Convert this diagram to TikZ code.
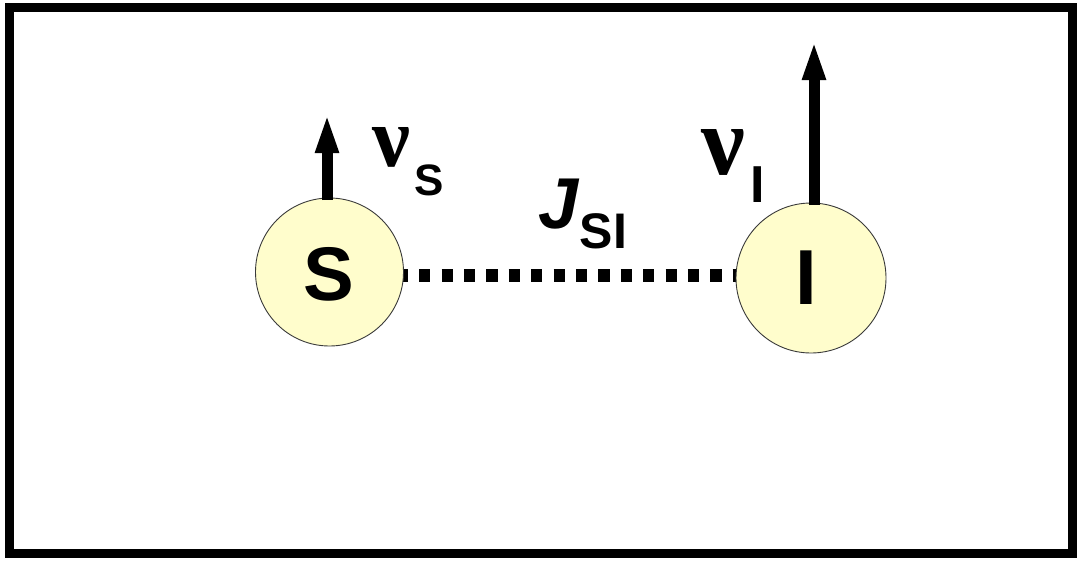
\documentclass[tikz,border=0pt]{standalone}
\usepackage{fontspec}
\setmainfont{Liberation Sans}
\newfontfamily\greekfont{Liberation Serif}
\usetikzlibrary{arrows.meta}
\definecolor{spinfill}{HTML}{FFFDCC}
\definecolor{rimgray}{HTML}{3A3A3A}
\tikzset{
  spin/.style={circle, draw=rimgray, line width=0.9pt, fill=spinfill, inner sep=0pt},
  moment/.style={line width=11pt, -{Triangle[length=40pt, width=21pt]}},
  coupling/.style={line width=13pt, dash pattern=on 11.2pt off 11.2pt},
  glyph/.style={inner sep=0pt, outer sep=0pt, anchor=center}
}
\begin{document}
\begin{tikzpicture}[x=1pt, y=-1pt]
  \useasboundingbox (0,0) rectangle (1081,560);
  % outer frame
  \draw[line width=9pt] (9.5,7.5) rectangle (1072,553.5);

  % spin centres
  \coordinate (cS) at (329.5,272);
  \coordinate (cI) at (811,278);
  \coordinate (mid) at (570,275);

  % scalar coupling, drawn beneath the spins
  \draw[coupling] (cS |- mid) -- (cI |- mid);

  % the two spins
  \node[spin, minimum size=148pt] (S) at (cS) {};
  \node[spin, minimum size=150pt] (I) at (cI) {};
  \node[glyph, font=\bfseries\fontsize{76}{76}\selectfont] (Slbl) at (328.5,274) {S};
  \node[glyph, font=\bfseries\fontsize{78}{78}\selectfont] (Ilbl) at (806.5,278) {I};

  % coupling label
  \node[glyph, font=\bfseries\itshape\fontsize{72}{72}\selectfont] (J) at (558.5,204) {J};
  \node[glyph, font=\bfseries\fontsize{50}{50}\selectfont] (Jsub) at (603.5,231) {SI};

  % magnetic moments
  \coordinate (tipS) at (327,113);
  \coordinate (tipI) at (814,40);
  \draw[moment] (tipS |- 0,200) -- (tipS);
  \draw[moment] (tipI |- 0,205) -- (tipI);

  % frequency labels
  \node[glyph, font=\greekfont\bfseries\fontsize{85}{85}\selectfont] (nuS) at (391,147.5) {ν};
  \node[glyph, font=\bfseries\fontsize{44}{44}\selectfont] (nuSsub) at (429,180) {S};
  \node[glyph, font=\greekfont\bfseries\fontsize{98}{98}\selectfont] (nuI) at (723,152.5) {ν};
  \node[glyph, font=\bfseries\fontsize{52}{52}\selectfont] (nuIsub) at (757.5,184.5) {I};
\end{tikzpicture}
\end{document}
